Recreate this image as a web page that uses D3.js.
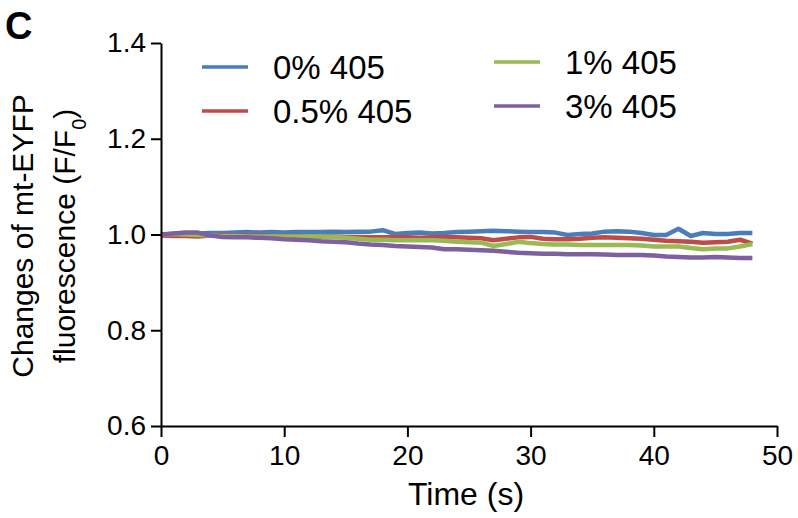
<!DOCTYPE html>
<html>
<head>
<meta charset="utf-8">
<script src="https://cdn.jsdelivr.net/npm/d3@7"></script>
<style>
  body { margin: 0; background: #fff; }
  text { font-family: "Liberation Sans", Arial, sans-serif; fill: #000; }
</style>
</head>
<body>
<div id="chart"></div>
<script>
var width = 798,
    height = 518;

// time points (s)
var times = d3.range(0, 49);

var seriesNames = ["0% 405", "0.5% 405", "1% 405", "3% 405"];
var seriesColors = ["#4a7ebb", "#be4b48", "#98b954", "#7d60a0"];

var blue = [1.000, 1.001, 1.002, 1.002, 1.003, 1.003, 1.004, 1.005, 1.004, 1.005,
            1.004, 1.005, 1.005, 1.005, 1.006, 1.005, 1.006, 1.006, 1.009, 1.001,
            1.003, 1.004, 1.002, 1.003, 1.005, 1.006, 1.007, 1.008, 1.007, 1.006,
            1.005, 1.005, 1.004, 0.999, 1.001, 1.002, 1.006, 1.007, 1.006, 1.003,
            0.999, 0.999, 1.012, 0.997, 1.003, 1.001, 1.001, 1.003, 1.003];
var red = [0.998, 0.997, 0.997, 0.996, 0.998, 0.999, 0.998, 0.998, 0.998, 0.997,
           0.997, 0.997, 0.996, 0.996, 0.996, 0.995, 0.995, 0.994, 0.994, 0.994,
           0.994, 0.993, 0.994, 0.994, 0.994, 0.993, 0.992, 0.988, 0.991, 0.994,
           0.995, 0.991, 0.990, 0.990, 0.991, 0.993, 0.994, 0.993, 0.992, 0.991,
           0.989, 0.987, 0.986, 0.985, 0.983, 0.984, 0.985, 0.989, 0.981];
var green = [1.000, 1.001, 1.000, 0.999, 0.998, 0.997, 0.997, 0.996, 0.996, 0.996,
             0.996, 0.996, 0.996, 0.996, 0.995, 0.993, 0.991, 0.989, 0.989, 0.988,
             0.988, 0.988, 0.988, 0.987, 0.985, 0.984, 0.983, 0.976, 0.980, 0.985,
             0.982, 0.980, 0.979, 0.979, 0.978, 0.978, 0.978, 0.978, 0.978, 0.977,
             0.975, 0.975, 0.975, 0.972, 0.969, 0.971, 0.971, 0.975, 0.980];
var purple = [1.000, 1.002, 1.004, 1.004, 0.998, 0.995, 0.994, 0.994, 0.993, 0.992,
              0.990, 0.989, 0.988, 0.986, 0.985, 0.984, 0.981, 0.979, 0.978, 0.976,
              0.975, 0.974, 0.973, 0.969, 0.969, 0.968, 0.967, 0.966, 0.964, 0.962,
              0.961, 0.960, 0.960, 0.959, 0.959, 0.959, 0.958, 0.957, 0.957, 0.957,
              0.956, 0.954, 0.953, 0.952, 0.952, 0.953, 0.952, 0.951, 0.951];

var xTicks = [0, 10, 20, 30, 40, 50];
var yTicks = [0.6, 0.8, 1.0, 1.2, 1.4];

var series = [blue, red, green, purple].map(function(vals, i) {
  return {
    name: seriesNames[i],
    color: seriesColors[i],
    values: vals.map(function(v, j) { return { t: times[j], v: v }; })
  };
});

var svg = d3.select("#chart").append("svg")
  .attr("width", width)
  .attr("height", height);

var x = d3.scaleLinear().domain([0, 50]).range([161, 777]);
var y = d3.scaleLinear().domain([0.6, 1.4]).range([426, 43]);

// lines
var line = d3.line()
  .x(function(d) { return x(d.t); })
  .y(function(d) { return y(d.v); });

svg.selectAll("path.series")
  .data(series)
  .enter()
  .append("path")
  .attr("class", "series")
  .attr("d", function(d) { return line(d.values); })
  .style("fill", "none")
  .style("stroke", function(d) { return d.color; })
  .style("stroke-width", 4.5)
  .style("stroke-linejoin", "round");

// axes
var xAxis = svg.append("g")
  .attr("transform", "translate(0," + y(0.6) + ")")
  .call(d3.axisBottom(x).tickValues(xTicks).tickSize(11).tickSizeOuter(0).tickPadding(8));

var yAxis = svg.append("g")
  .attr("transform", "translate(" + x(0) + ",0)")
  .call(d3.axisLeft(y).tickValues(yTicks).tickSize(10).tickSizeOuter(0).tickPadding(5)
    .tickFormat(d3.format(".1f")));

[xAxis, yAxis].forEach(function(g) {
  g.select(".domain").style("stroke", "#000").style("stroke-width", 2);
  g.selectAll(".tick line").style("stroke", "#000").style("stroke-width", 2);
  g.selectAll(".tick text")
    .style("font-family", "'Liberation Sans', Arial, sans-serif")
    .style("font-size", "28px")
    .style("fill", "#000");
});

// axis titles
svg.append("text")
  .attr("x", 466)
  .attr("y", 505)
  .attr("text-anchor", "middle")
  .style("font-size", "32px")
  .text("Time (s)");

var yTitle = svg.append("text")
  .attr("transform", "translate(33,236) rotate(-90)")
  .attr("text-anchor", "middle")
  .style("font-size", "30px");
yTitle.append("tspan")
  .attr("x", 0)
  .attr("y", 0)
  .text("Changes of mt-EYFP");
var l2 = yTitle.append("tspan")
  .attr("x", 0)
  .attr("y", 42)
  .text("fluorescence (F/F");
l2.append("tspan")
  .attr("baseline-shift", "sub")
  .style("font-size", "20px")
  .text("0");
l2.append("tspan")
  .text(")");

// panel letter
svg.append("text")
  .attr("x", 5)
  .attr("y", 39)
  .style("font-size", "38px")
  .style("font-weight", "bold")
  .text("C");

// legend
var legendPos = [
  { lx: 202, ly: 67 },
  { lx: 202, ly: 111 },
  { lx: 494, ly: 62 },
  { lx: 494, ly: 106 }
];

var legend = svg.selectAll("g.legend")
  .data(series)
  .enter()
  .append("g")
  .attr("class", "legend")
  .attr("transform", function(d, i) {
    return "translate(" + legendPos[i].lx + "," + legendPos[i].ly + ")";
  });

legend.append("line")
  .attr("x1", 0)
  .attr("x2", 46)
  .attr("y1", 0)
  .attr("y2", 0)
  .style("stroke", function(d) { return d.color; })
  .style("stroke-width", 3.5);

legend.append("text")
  .attr("x", 71)
  .attr("y", 0)
  .attr("dy", "0.35em")
  .style("font-size", "33px")
  .text(function(d) { return d.name; });
</script>
</body>
</html>
